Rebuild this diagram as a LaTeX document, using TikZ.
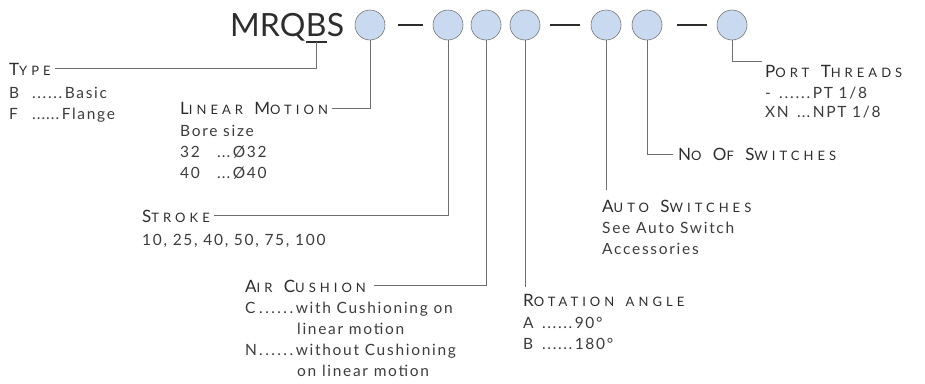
\documentclass[tikz,border=0pt]{standalone}
\usepackage{fontspec}
\setmainfont{Lato}
\newfontfamily\hdf[LetterSpace=31]{Lato}
\newfontfamily\bdf[LetterSpace=11]{Lato}
\usetikzlibrary{calc}
\definecolor{txt}{RGB}{45,45,45}
\definecolor{bodytxt}{RGB}{60,60,60}
\definecolor{conncol}{RGB}{110,110,110}
\definecolor{circfill}{RGB}{201,217,240}
\definecolor{circline}{RGB}{120,120,120}
\newcommand\hdw[2]{{\fontsize{17}{17}\selectfont #1}{\fontsize{13}{13}\selectfont #2}}
\newcommand\hgap{\hspace{4pt}}
\newcommand\dsix[1]{\makebox[#1][s]{.\hfill.\hfill.\hfill.\hfill.\hfill.}}
\newcommand\dthree[1]{\makebox[#1][s]{.\hfill.\hfill.}}
\tikzset{
  circ/.style={circle,minimum size=30pt,inner sep=0pt,draw=circline,fill=circfill,line width=0.6pt},
  title/.style={inner sep=0pt,anchor=base west,text=txt,font=\fontsize{32}{32}\selectfont},
  hd/.style={inner sep=0pt,anchor=base west,text=txt,font=\hdf\fontsize{13}{13}\selectfont},
  bd/.style={inner sep=0pt,anchor=base west,align=left,text=bodytxt,font=\bdf\fontsize{15.5}{21}\selectfont},
  conn/.style={draw=conncol,line width=0.9pt},
  dashline/.style={draw=txt,line width=2.6pt},
}
\begin{document}
\begin{tikzpicture}[x=1pt,y=-1pt]
\useasboundingbox (0,0) rectangle (925,383);
% title
\node[title] (mrq) at (230,36) {MRQ};
\node[title] (bb) at (mrq.base east) {B};
\node[title] (ss) at (bb.base east) {S};
\draw[draw=txt,line width=1.8pt] ([yshift=-6pt]bb.base west) -- ([yshift=-6pt]bb.base east);
\coordinate (ul) at ([yshift=-6pt]bb.base);
% circles
\node[circ] (c1) at (370,25) {};
\node[circ] (c2) at (448,25) {};
\node[circ] (c3) at (486,25) {};
\node[circ] (c4) at (525,25) {};
\node[circ] (c5) at (606,25) {};
\node[circ] (c6) at (647,25) {};
\node[circ] (c7) at (732,25) {};
\draw[dashline] ([xshift=13pt]c1.east) -- ([xshift=-10pt]c2.west);
\draw[dashline] ([xshift=10pt]c4.east) -- ([xshift=-11pt]c5.west);
\draw[dashline] ([xshift=15pt]c6.east) -- ([xshift=-10pt]c7.west);
% headers
\node[hd] (type) at (9,75) {\hdw{T}{YPE}};
\node[hd] (lin) at (180,114) {\hdw{L}{INEAR}\hgap\ \hdw{M}{OTION}};
\node[hd] (str) at (142,222) {\hdw{S}{TROKE}};
\node[hd] (air) at (245,292) {\hdw{A}{IR}\hgap\ \hdw{C}{USHION}};
\node[hd] (rot) at (523,306) {\hdw{R}{OTATION}\hgap\ \hdw{}{ANGLE}};
\node[hd] (aut) at (602,212) {\hdw{A}{UTO}\hgap\ \hdw{S}{WITCHES}};
\node[hd] (nos) at (678,160) {\hdw{N}{O}\hgap\ \hdw{O}{F}\hgap\ \hdw{S}{WITCHES}};
\node[hd] (prt) at (765,77) {\hdw{P}{ORT}\hgap\ \hdw{T}{HREADS}};
% bodies (anchor = baseline of last line)
\node[bd] (typeb) at (9,119.5) {\makebox[23pt][l]{B}\dsix{30pt}\,Basic\\ \makebox[23pt][l]{F}\dsix{27pt}\,Flange};
\node[bd] (linb) at (180,178.5) {Bore size\\ \makebox[37pt][l]{32}\dthree{13pt}\,Ø32\\ \makebox[37pt][l]{40}\dthree{13pt}\,Ø40};
\node[bd] (strb) at (142,245.5) {10, 25, 40, 50, 75, 100};
\node[bd] (airb) at (245,376.5) {\makebox[14pt][l]{C}\dsix{34pt}\,with Cushioning on\\ \hspace*{52pt}linear motion\\ \makebox[14pt][l]{N}\dsix{34pt}\,without Cushioning\\ \hspace*{52pt}on linear motion};
\node[bd] (rotb) at (523,349.5) {\makebox[19pt][l]{A}\dsix{30pt}\,90°\\ \makebox[19pt][l]{B}\dsix{30pt}\,180°};
\node[bd] (autb) at (602,254.5) {See Auto Switch\\ Accessories};
\node[bd,font=\bdf\fontsize{15.5}{19}\selectfont] (prtb) at (765,117.5) {\makebox[14pt][l]{-}\dsix{31pt}\,PT 1/8\\ \makebox[32pt][l]{XN}\dthree{13pt}\,NPT 1/8};
% connectors
\coordinate (e4) at (525,287);
\coordinate (e5) at (606,190);
\draw[conn] (ul) |- ([xshift=4pt]type.east);
\draw[conn] (c1.south) |- ([xshift=4pt]lin.east);
\draw[conn] (c2.south) |- ([xshift=4pt]str.east);
\draw[conn] (c3.south) |- ([xshift=8pt]air.east);
\draw[conn] (c4.south) -- (e4);
\draw[conn] (c5.south) -- (e5);
\draw[conn] (c6.south) |- ([xshift=-5pt,yshift=-1pt]nos.west);
\draw[conn] (c7.south) |- ([xshift=-3pt,yshift=3pt]prt.north west);
\end{tikzpicture}
\end{document}
